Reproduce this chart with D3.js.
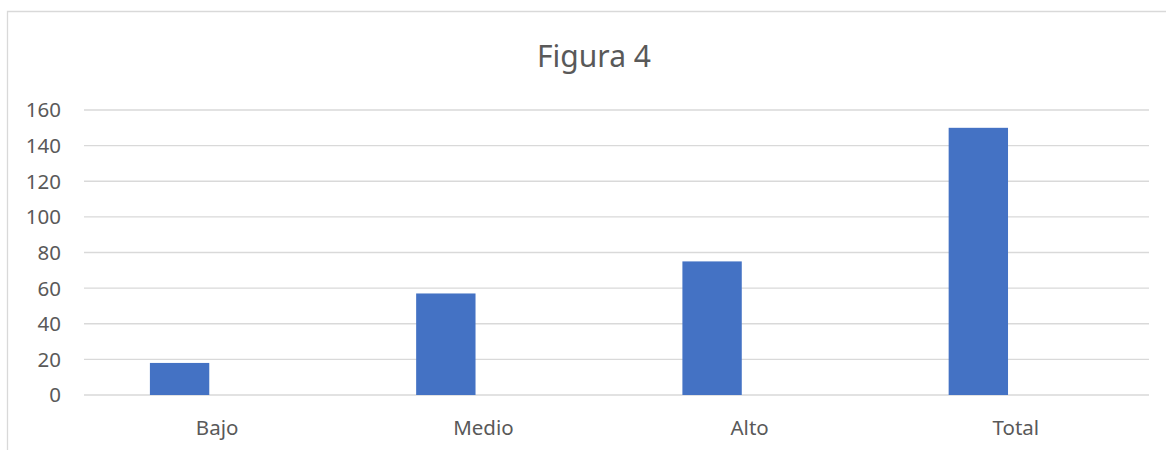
<!DOCTYPE html>
<html>
<head>
<meta charset="utf-8">
<script src="https://cdn.jsdelivr.net/npm/d3@7/dist/d3.min.js"></script>
<style>
  html, body { margin: 0; padding: 0; background: #fff; }
  svg { display: block; }
  text { font-family: "Noto Sans", "Open Sans", sans-serif; fill: #595959; }
</style>
</head>
<body>
<svg id="chart" width="1166" height="450"></svg>
<script>
const title = "Figura 4";
const categories = ["Bajo", "Medio", "Alto", "Total"];
const values = [18, 57, 75, 150];
const yTicks = [0, 20, 40, 60, 80, 100, 120, 140, 160];

const W = 1166, H = 450;
const plot = { left: 84, right: 1149, top: 110, bottom: 395 };

const svg = d3.select("#chart");

// chart frame
svg.append("path")
  .attr("d", `M7.5,${H + 5} L7.5,11.5 L${W + 5},11.5`)
  .attr("fill", "none")
  .attr("stroke", "#d9d9d9")
  .attr("stroke-width", 1.3);

const x = d3.scaleBand().domain(categories).range([plot.left, plot.right]).padding(0);
const y = d3.scaleLinear().domain([0, 160]).range([plot.bottom, plot.top]);

// gridlines
svg.append("g").selectAll("line").data(yTicks).join("line")
  .attr("x1", plot.left).attr("x2", plot.right)
  .attr("y1", d => y(d)).attr("y2", d => y(d))
  .attr("stroke", "#d9d9d9").attr("stroke-width", 1.4);

// y tick labels
svg.append("g").selectAll("text").data(yTicks).join("text")
  .attr("x", 61).attr("y", d => y(d))
  .attr("text-anchor", "end")
  .attr("dy", "0.36em")
  .style("font-size", "20.5px")
  .text(d => d);

// bars (first series of a two-slot cluster)
const bw = x.bandwidth();
svg.append("g").selectAll("rect").data(values).join("rect")
  .attr("x", (d, i) => x(categories[i]) + bw * 0.2475)
  .attr("width", bw * 0.223)
  .attr("y", d => y(d))
  .attr("height", d => y(0) - y(d))
  .attr("fill", "#4472c4");

// category labels
svg.append("g").selectAll("text").data(categories).join("text")
  .attr("x", d => x(d) + bw / 2)
  .attr("y", 434.5)
  .attr("text-anchor", "middle")
  .style("font-size", "20.5px")
  .text(d => d);

// title
svg.append("text")
  .attr("x", 594).attr("y", 66.5)
  .attr("text-anchor", "middle")
  .style("font-size", "30px")
  .text(title);
</script>
</body>
</html>
